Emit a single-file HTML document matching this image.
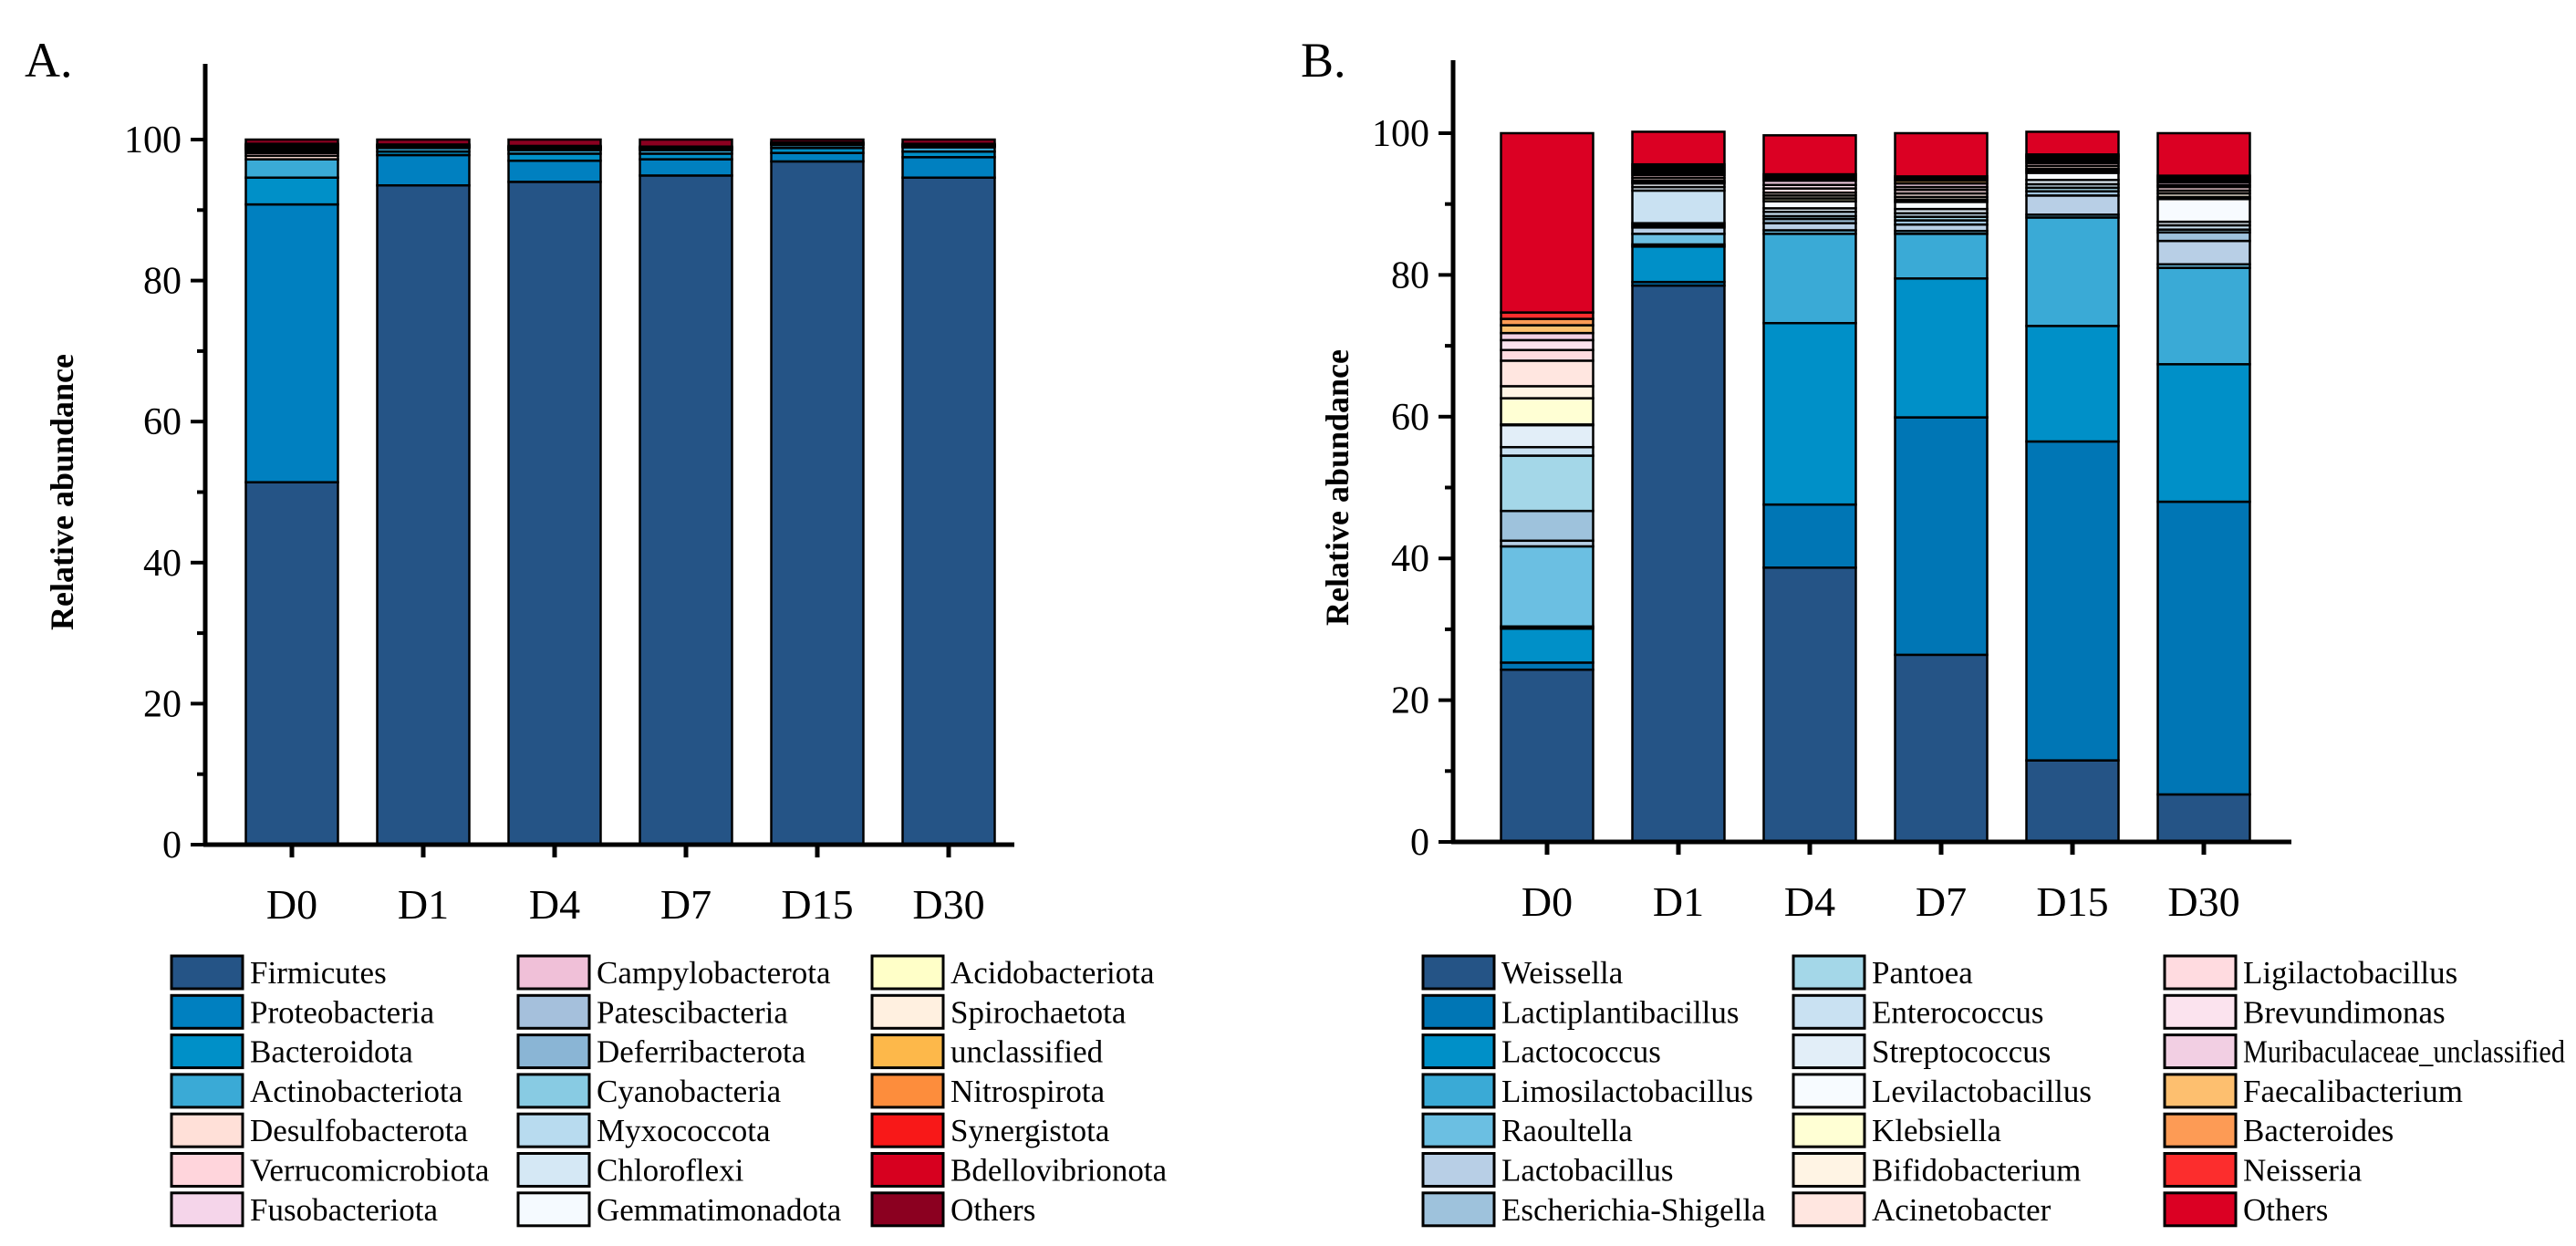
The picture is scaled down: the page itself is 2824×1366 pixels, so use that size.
<!DOCTYPE html>
<html><head><meta charset="utf-8"><style>
html,body{margin:0;padding:0;background:#fff;}
svg{display:block;font-family:"Liberation Serif",serif;}
</style></head><body>
<svg id="fig" width="2824" height="1366" viewBox="0 0 2824 1366" xmlns="http://www.w3.org/2000/svg">
<rect width="2824" height="1366" fill="#fff"/>
<g id="pa"></g>
<g id="pb"></g>
</svg>
<script>
const days = ["D0","D1","D4","D7","D15","D30"];
const yTicks = [0,20,40,60,80,100];

const phylaNames = ["Firmicutes","Proteobacteria","Bacteroidota","Actinobacteriota","Desulfobacterota","Verrucomicrobiota","Fusobacteriota","Campylobacterota","Patescibacteria","Deferribacterota","Cyanobacteria","Myxococcota","Chloroflexi","Gemmatimonadota","Acidobacteriota","Spirochaetota","unclassified","Nitrospirota","Synergistota","Bdellovibrionota","Others"];
const phylaColors = ["#255486","#0080c0","#0090c8","#3aaad6","#ffe0d8","#ffd5dc","#f5d5ea","#f0c0d8","#a5c0dc","#8ab5d5","#88cbe3","#b8dbef","#d5e8f5","#f5faff","#ffffc8","#fff0e0","#fdb84a","#fd8d3c","#f81818","#d7001f","#8b0020"];
const phylaValues = [
 [51.4,93.5,94.0,94.9,96.9,94.6],
 [39.4,4.3,3.0,2.3,1.2,2.9],
 [3.8,0.5,1.0,0.8,0.7,0.8],
 [2.6,0.5,0.5,0.5,0.4,0.6],
 [0.5,0.1,0.1,0.1,0.1,0.1],
 [0.4,0.1,0.1,0.1,0.1,0.1],
 [0.3,0.1,0.1,0.1,0.1,0.1],
 [0.2,0.1,0.1,0.1,0.0,0.1],
 [0.1,0.0,0.1,0.0,0.0,0.0],
 [0.1,0.0,0.0,0.0,0.0,0.0],
 [0.1,0.0,0.0,0.0,0.0,0.0],
 [0.1,0.0,0.0,0.0,0.0,0.0],
 [0.1,0.0,0.0,0.0,0.0,0.0],
 [0.1,0.0,0.0,0.0,0.0,0.0],
 [0.1,0.0,0.0,0.0,0.0,0.0],
 [0.1,0.0,0.0,0.0,0.0,0.0],
 [0.0,0.1,0.1,0.1,0.1,0.1],
 [0.0,0.0,0.0,0.0,0.0,0.0],
 [0.0,0.0,0.0,0.0,0.0,0.0],
 [0.0,0.0,0.0,0.0,0.0,0.0],
 [0.6,0.7,0.9,1.0,0.4,0.6]
];

const genusNames = ["Weissella","Lactiplantibacillus","Lactococcus","Limosilactobacillus","Raoultella","Lactobacillus","Escherichia-Shigella","Pantoea","Enterococcus","Streptococcus","Levilactobacillus","Klebsiella","Bifidobacterium","Acinetobacter","Ligilactobacillus","Brevundimonas","Muribaculaceae_unclassified","Faecalibacterium","Bacteroides","Neisseria","Others"];
const genusColors = ["#255486","#0076b5","#0090c8","#3aaad6","#6bbfe2","#b8cfe6","#9ec2dc","#a4d7e8","#c9e1f2","#e2eef8","#f7fbff","#ffffd4","#fff4e4","#ffe6e0","#ffdbe0","#fbe3ee","#f2cfe3","#fdbf6f","#fd9b55","#fc2d2d","#db0023"];
const genusValues = [
 [24.3,78.5,38.7,26.4,11.5,6.7],
 [1.0,0.5,8.9,33.5,45.0,41.3],
 [4.8,5.0,25.6,19.6,16.3,19.4],
 [0.3,0.3,12.6,6.3,15.3,13.6],
 [11.3,1.5,0.5,0.4,0.4,0.5],
 [0.8,0.9,1.0,0.9,2.7,3.3],
 [4.2,0.3,0.6,0.6,0.6,1.2],
 [7.8,0.3,0.4,0.5,0.5,0.4],
 [1.2,4.6,0.6,0.5,0.5,0.6],
 [3.1,0.5,0.5,0.6,0.6,0.5],
 [0.1,0.5,1.0,1.0,1.0,3.2],
 [3.7,0.2,0.4,0.3,0.3,0.3],
 [1.7,0.2,0.4,0.4,0.3,0.5],
 [3.6,0.4,0.4,0.5,0.4,0.4],
 [1.5,0.4,0.6,0.5,0.4,0.5],
 [1.4,0.3,0.5,0.4,0.3,0.3],
 [1.0,0.3,0.6,0.5,0.3,0.4],
 [1.1,0.3,0.3,0.4,0.2,0.3],
 [0.9,0.3,0.3,0.3,0.2,0.3],
 [0.9,0.3,0.3,0.3,0.2,0.3],
 [25.3,4.6,5.5,6.1,3.2,6.0]
];

const NS="http://www.w3.org/2000/svg";
function mk(parent,tag,attrs,text){
  const e=document.createElementNS(NS,tag);
  for(const k in attrs) e.setAttribute(k,attrs[k]);
  if(text!==undefined) e.textContent=text;
  parent.appendChild(e); return e;
}

function drawPanel(g,cfg){
  const y = v => cfg.y0 - v*(cfg.y0-cfg.y100)/100;
  const xc = i => cfg.x0 + i*144;
  const bw = 101;
  days.forEach((d,i)=>{
    let cum=0;
    cfg.values.forEach((arr,s)=>{
      const v=arr[i]; if(v<=0) return;
      const r=mk(g,'rect',{x:xc(i)-bw/2,y:y(cum+v),width:bw,height:Math.max(0,y(cum)-y(cum+v)),fill:cfg.colors[s],stroke:'#000','stroke-width':2.5});
      
      
      cum+=v;
    });
  });
  const ya=mk(g,'line',{x1:cfg.ax,y1:cfg.axTop,x2:cfg.ax,y2:cfg.y0+2,stroke:'#000','stroke-width':5});
  
  
  const xa=mk(g,'line',{x1:cfg.ax-2,y1:cfg.y0,x2:cfg.axRight,y2:cfg.y0,stroke:'#000','stroke-width':5});
  
  
  for(let v=0;v<=100;v+=10){
    const major=v%20===0;
    mk(g,'line',{x1:cfg.ax-(major?16:9),y1:y(v),x2:cfg.ax,y2:y(v),stroke:'#000','stroke-width':4});
  }
  yTicks.forEach(v=>{
    const t=mk(g,'text',{x:cfg.ax-26,y:y(v)+14,'text-anchor':'end','font-size':42},String(v));
    
    
  });
  days.forEach((d,i)=>{
    mk(g,'line',{x1:xc(i),y1:cfg.y0,x2:xc(i),y2:cfg.y0+14,stroke:'#000','stroke-width':5});
    const t=mk(g,'text',{x:xc(i),y:cfg.y0+81,'text-anchor':'middle','font-size':46},d);
    
    
  });
  const yt=mk(g,'text',{x:0,y:0,transform:`translate(${cfg.titleX},${(cfg.y0+cfg.y100)/2}) rotate(-90)`,'text-anchor':'middle','font-size':36,'font-weight':'bold'},'Relative abundance');
  
  
  const pl=mk(g,'text',{x:cfg.labelX,y:84,'font-size':54},cfg.label);
  
  
  cfg.names.forEach((n,s)=>{
    const col=Math.floor(s/7), row=s%7;
    const lx=cfg.legX[col], ly=1048+row*43.3;
    const sw=mk(g,'rect',{x:lx,y:ly,width:78,height:36,fill:cfg.colors[s],stroke:'#000','stroke-width':3});
    
    
    const t=mk(g,'text',{x:lx+86,y:ly+30,'font-size':35},n);
    
    
    const maxW=2812-(lx+86);
    if(t.getComputedTextLength()>maxW){
      t.setAttribute('textLength',maxW);
      t.setAttribute('lengthAdjust','spacingAndGlyphs');
    }
  });
}

drawPanel(document.getElementById('pa'),{names:phylaNames,colors:phylaColors,values:phylaValues,
  x0:320,y0:926,y100:153,ax:225,axTop:70,axRight:1112,titleX:80,labelX:27,label:'A.',legX:[188,568,956]});
drawPanel(document.getElementById('pb'),{names:genusNames,colors:genusColors,values:genusValues,
  x0:1696,y0:923,y100:146,ax:1593,axTop:66,axRight:2512,titleX:1478,labelX:1426,label:'B.',legX:[1560,1966,2373]});
</script>
</body></html>
